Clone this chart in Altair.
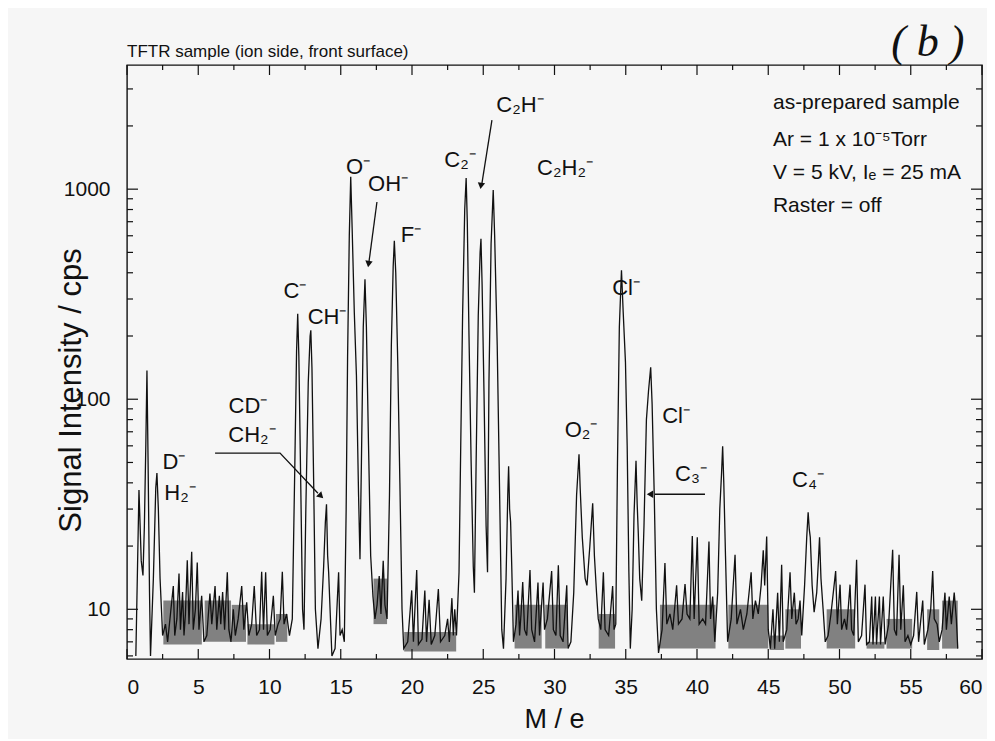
import altair as alt
import pandas as pd

# ---------------- data ----------------
trace_mz = [
    0.62, 0.84, 1.00, 1.12, 1.22, 1.32, 1.40, 1.48, 1.58, 1.65, 1.85, 2.02, 2.10, 2.20, 2.32, 2.50,
    2.70, 2.85, 3.05, 3.25, 3.35, 3.50, 3.65, 3.75, 3.90, 4.00, 4.10, 4.23, 4.35, 4.54, 4.65, 4.80,
    4.93, 5.05, 5.24, 5.40, 5.60, 5.82, 5.95, 6.18, 6.30, 6.48, 6.58, 6.71, 6.85, 7.04, 7.15, 7.30,
    7.46, 7.60, 7.80, 8.05, 8.20, 8.40, 8.55, 8.75, 8.93, 9.10, 9.30, 9.45, 9.58, 9.73, 9.85, 10.05,
    10.27, 10.40, 10.60, 10.75, 10.90, 11.02, 11.20, 11.40,
    11.60, 11.78, 11.90, 11.98, 12.06, 12.18, 12.32, 12.42, 12.55, 12.72, 12.85, 12.90, 12.98, 13.10,
    13.22, 13.40, 13.62, 13.80, 13.92, 14.00, 14.08, 14.15, 14.25, 14.38, 14.60, 14.85, 14.95, 15.10,
    15.25, 15.38, 15.48, 15.60, 15.70, 15.80, 15.95, 16.10, 16.25, 16.35, 16.45, 16.58, 16.70, 16.80,
    16.95, 17.10, 17.26, 17.40, 17.55, 17.70, 17.82, 17.98, 18.10, 18.25, 18.42, 18.55, 18.68, 18.76,
    18.86, 19.00, 19.15, 19.30, 19.42, 19.70, 19.98, 20.10, 20.33, 20.45, 20.70, 20.90, 21.02, 21.20,
    21.35, 21.60, 21.85, 22.00, 22.30, 22.50, 22.62, 22.80, 22.90, 23.00, 23.12,
    23.30, 23.42, 23.55, 23.70, 23.80, 23.88, 24.00, 24.15, 24.30, 24.38, 24.50, 24.65, 24.78, 24.84,
    24.92, 25.05, 25.20, 25.30, 25.40, 25.55, 25.70, 25.80, 25.98, 26.15, 26.30, 26.42, 26.60, 26.72,
    26.78, 26.85, 26.92, 27.00, 27.12, 27.30, 27.44, 27.55, 27.65, 27.77, 27.90, 28.05, 28.28, 28.40,
    28.60, 28.84, 28.95, 29.20, 29.30, 29.50, 29.80, 29.92, 30.10, 30.27, 30.40, 30.60, 30.86, 30.95,
    31.15, 31.35, 31.55, 31.72, 31.80, 31.95, 32.15, 32.28, 32.48, 32.68, 32.80, 32.95, 33.07, 33.25,
    33.43, 33.55, 33.80, 34.08, 34.18, 34.30, 34.42, 34.55, 34.70, 34.82, 34.98, 35.10, 35.22, 35.32,
    35.45, 35.58, 35.72, 35.80, 35.88, 35.98, 36.12, 36.28, 36.45, 36.60, 36.75, 36.85, 37.00, 37.15,
    37.30, 37.55, 37.75, 37.88, 38.10, 38.30, 38.57, 38.70, 38.95, 39.16, 39.30, 39.50, 39.67, 39.80,
    40.02, 40.15, 40.40, 40.60, 40.84, 40.95, 41.10, 41.25, 41.45, 41.60, 41.72, 41.80, 41.88, 42.00,
    42.15, 42.40, 42.67, 42.80, 43.05, 43.25, 43.50, 43.80, 43.92, 44.10, 44.30, 44.50, 44.65, 44.75,
    44.89, 45.00, 45.15, 45.33, 45.45, 45.66, 45.78, 45.94, 46.05, 46.30, 46.53, 46.65, 46.83, 46.95,
    47.10, 47.23, 47.35, 47.55, 47.70, 47.80, 47.88, 47.95, 48.08, 48.22, 48.40, 48.52, 48.60, 48.70,
    48.85, 49.00, 49.20, 49.40, 49.73, 49.85, 50.04, 50.15, 50.35, 50.50, 50.74, 50.85, 51.00, 51.20,
    51.32, 51.55, 51.79, 51.90, 52.10, 52.26, 52.35, 52.52, 52.60, 52.80, 52.88, 53.07, 53.20, 53.45,
    53.73, 53.85, 54.00, 54.18, 54.30, 54.48, 54.60, 54.80, 55.00, 55.20, 55.42, 55.55, 55.84, 55.95,
    56.20, 56.40, 56.54, 56.65, 56.85, 57.00, 57.20, 57.40, 57.50, 57.70, 57.85, 58.05, 58.20, 58.30,
]
trace_cps = [
    6.0, 37, 17, 14.5, 25, 60, 137, 50, 12, 6.0, 14, 38, 44.5, 30, 14, 7.5,
    8.5, 7.0, 9.5, 12.9, 7.5, 9.0, 14.8, 8.0, 12.1, 7.5, 9.5, 17.1, 8.5, 18.8, 8.0, 10.0,
    16.7, 8.0, 11.6, 7.0, 7.5, 11.9, 8.5, 12.9, 8.0, 11.6, 8.5, 12.1, 8.0, 15.0, 8.0, 7.0,
    10.0, 7.5, 9.0, 12.9, 8.0, 10.8, 7.5, 8.5, 12.9, 7.5, 8.0, 15.1, 8.0, 15.0, 7.5, 8.0,
    11.6, 7.5, 8.5, 9.0, 15.1, 8.5, 9.5, 7.5,
    9, 50, 170, 255, 160, 45, 10, 8, 30, 120, 200, 213, 140, 40,
    10, 6.5, 9, 16, 26, 31.6, 18, 15, 10, 6.0, 6.5, 15.0, 7.5, 8.0,
    7.0, 30, 160, 600, 1145, 650, 260, 130, 35, 17.3, 50, 220, 372, 220,
    60, 18, 11.5, 9.0, 10.5, 14.4, 9.5, 17.0, 10.5, 9.0, 35, 180, 430, 568,
    400, 150, 40, 10, 6.5, 7.0, 12.3, 7.0, 15.4, 6.8, 7.2, 12.3, 7.0, 11.1,
    6.8, 7.5, 12.5, 7.0, 7.5, 9.0, 7.0, 11.3, 7.5, 10.0, 7.5,
    15, 60, 250, 800, 1130, 700, 200, 50, 16, 12, 50, 250, 500, 580,
    350, 110, 25, 15, 120, 550, 990, 600, 180, 35, 8, 6.5, 14, 35,
    48, 30, 26, 16, 7, 8.5, 12.3, 7.5, 9.5, 13.5, 8.0, 7.5, 15.4, 8.0,
    7.0, 13.4, 7.5, 13.4, 8.0, 9.0, 15.2, 8.0, 7.5, 16.2, 7.5, 7.0, 13.0, 6.5,
    7.0, 12, 35, 54.7, 38, 22, 14, 13, 20, 32, 18, 12, 9, 8,
    15, 8, 7.5, 12.9, 8, 8.5, 50, 220, 411, 260, 150, 60, 15, 6.5,
    10, 28, 51, 32, 23, 14, 11, 25, 80, 110, 142, 95, 35, 10,
    6.2, 8, 16.6, 8.5, 9.5, 8.0, 13.0, 8.5, 9.0, 13.2, 9.5, 9.0, 22.3, 9.0,
    22.0, 8.5, 9.0, 8.5, 21.0, 9.0, 11.5, 7.0, 12, 30, 44, 59.7, 40, 18,
    7, 9.0, 18.2, 8.5, 10.0, 8.0, 9.5, 15.0, 9.0, 11.0, 9.5, 13, 19.1, 13,
    22.2, 8.0, 6.5, 10.0, 6.5, 12.0, 7.0, 16.3, 7.0, 8.0, 15.0, 9.0, 12.0, 8.5,
    9.0, 11.0, 7.5, 13, 22, 29, 24, 22, 13, 9.7, 12, 17, 22, 14,
    10, 7.0, 7.5, 9.5, 15.2, 8.5, 13.1, 8.0, 9.0, 8.0, 13.1, 8.0, 7.5, 17.2,
    7.0, 7.5, 13.1, 6.8, 7.0, 11.5, 6.8, 11.5, 6.8, 11.5, 6.8, 11.5, 6.8, 8.5,
    19.2, 8.0, 7.5, 18.2, 8.0, 13.0, 7.0, 7.5, 6.8, 7.5, 12.1, 7.0, 11.0, 6.8,
    8.0, 10.0, 15.2, 9.0, 8.5, 7.0, 8.0, 12.0, 8.0, 11.5, 8.5, 12.0, 9.0, 6.5,
]

# dense (stippled) noise bands
band_start = [2.55, 5.45, 7.35, 8.45, 10.45, 17.3, 19.45, 27.2, 29.35, 33.1, 37.4, 42.2, 45.1, 46.2, 49.1, 51.9, 53.3, 56.15, 57.2]
band_end = [5.25, 7.3, 8.35, 10.35, 11.25, 18.25, 23.1, 29.1, 30.9, 34.25, 41.3, 45.0, 46.1, 47.3, 51.1, 53.15, 55.1, 57.0, 58.3]
band_lo = [6.8, 7.0, 7.0, 6.8, 7.0, 8.5, 6.3, 6.5, 6.5, 6.5, 6.5, 6.5, 6.4, 6.5, 6.5, 6.5, 6.5, 6.4, 6.5]
band_hi = [11, 11, 10.5, 8.5, 9.5, 14, 7.8, 10.5, 10.5, 9.5, 10.5, 10.5, 7.5, 10, 10, 7, 9, 10, 11]

# peak labels
label_text = ["D⁻", "H₂⁻", "CD⁻", "CH₂⁻", "C⁻", "CH⁻", "O⁻", "OH⁻", "F⁻", "C₂⁻", "C₂H⁻",
              "C₂H₂⁻", "Cl⁻", "Cl⁻", "O₂⁻", "C₃⁻", "C₄⁻"]
label_mz = [3.30, 3.72, 8.49, 8.77, 11.79, 14.04, 16.21, 18.32, 19.93, 23.37, 27.58,
            30.74, 35.02, 38.53, 31.86, 39.58, 47.79]
label_cps = [50.3, 35.7, 92.6, 67.4, 327, 246, 1274, 1058, 604, 1376, 2518,
             1262, 338, 83, 71.3, 44, 41.2]

# arrows
arrow_id = [0, 0, 0, 1, 1, 2, 2, 3, 3]
arrow_mz = [6.18, 10.74, 13.40, 17.54, 16.98, 25.61, 24.91, 40.56, 37.05]
arrow_cps = [55.4, 55.4, 35.7, 869, 450, 2133, 1069, 35.3, 35.3]
head_mz = [13.61, 16.95, 24.84, 36.70]
head_cps = [34.6, 440, 1036, 35.3]
head_shape = ["triangle-down", "triangle-down", "triangle-down", "triangle-left"]
head_angle = [315, 8, 9, 0]

# info block
info_text = ["as-prepared sample", "Ar = 1 x 10⁻⁵Torr", "V = 5 kV, Iₑ = 25 mA", "Raster = off"]
info_mz = [45.33, 45.33, 45.33, 45.33]
info_cps = [2572, 1714, 1194, 832]

title_text = ["TFTR sample (ion side, front surface)"]
title_mz = [0.0]
title_cps = [4500]
panel_text = ["( b )"]
panel_mz = [56.2]
panel_cps = [4966]

x_major = list(range(0, 61, 5))
x_minor = [2.5, 7.5, 12.5, 17.5, 22.5, 27.5, 32.5, 37.5, 42.5, 47.5, 52.5, 57.5]
y_major = [10, 100, 1000]
y_minor = [6, 7, 8, 9, 20, 30, 40, 50, 60, 70, 80, 90,
           200, 300, 400, 500, 600, 700, 800, 900, 2000, 3000]

# ---------------- chart ----------------
W, H = 855, 594
FONT = "Liberation Sans"
INK = "#111111"

xs = alt.Scale(domain=[0, 60], nice=False, zero=False)
ys = alt.Scale(type="log", domain=[5.8, 3900], nice=False)

AX = alt.Axis(
    values=x_major, ticks=False, domain=False, grid=False, title="M / e",
    labelFont=FONT, labelFontSize=21, labelColor=INK, labelPadding=17,
    titleFont=FONT, titleFontSize=27, titleFontWeight="normal", titleColor=INK,
    titleX=427, titleY=60, titleBaseline="middle", titleAlign="center")
AY = alt.Axis(
    values=y_major, ticks=False, domain=False, grid=False, title="Signal Intensity / cps",
    format="d", labelFont=FONT, labelFontSize=21, labelColor=INK, labelPadding=17,
    titleFont=FONT, titleFontSize=31, titleFontWeight="normal", titleColor=INK,
    titleX=-56, titleY=325, titleAngle=270, titleBaseline="middle", titleAlign="center")


def X(field):
    return alt.X(field, scale=xs, axis=AX, title="M / e")


def Y(field):
    return alt.Y(field, scale=ys, axis=AY, title="Signal Intensity / cps")


trace = pd.DataFrame({"i": range(len(trace_mz)), "mz": trace_mz, "cps": trace_cps})
bands = pd.DataFrame({"s": band_start, "e": band_end, "lo": band_lo, "hi": band_hi})
labels = pd.DataFrame({"t": label_text, "mz": label_mz, "cps": label_cps})
arrows = pd.DataFrame({"id": arrow_id, "mz": arrow_mz, "cps": arrow_cps, "o": range(len(arrow_id))})
heads = pd.DataFrame({"mz": head_mz, "cps": head_cps, "shape": head_shape, "ang": head_angle})
info = pd.DataFrame({"t": info_text, "mz": info_mz, "cps": info_cps})
ttl = pd.DataFrame({"t": title_text, "mz": title_mz, "cps": title_cps})
pnl = pd.DataFrame({"t": panel_text, "mz": panel_mz, "cps": panel_cps})
xmaj = pd.DataFrame({"v": x_major})
xmin = pd.DataFrame({"v": x_minor})
ymaj = pd.DataFrame({"v": y_major})
ymin = pd.DataFrame({"v": y_minor})

band_layer = alt.Chart(bands).mark_rect(fill="#333333", opacity=0.6, clip=True).encode(
    x=X("s:Q"), x2="e:Q", y=Y("lo:Q"), y2="hi:Q")

line_layer = alt.Chart(trace).mark_line(color=INK, strokeWidth=1.3, clip=True).encode(
    x=X("mz:Q"), y=Y("cps:Q"), order="i:Q")


def xticks(df, y0, y1):
    return alt.Chart(df).mark_rule(color=INK, strokeWidth=1.2).encode(
        x=X("v:Q"), y=alt.value(y0), y2=alt.value(y1))


def yticks(df, x0, x1):
    return alt.Chart(df).mark_rule(color=INK, strokeWidth=1.2).encode(
        y=Y("v:Q"), x=alt.value(x0), x2=alt.value(x1))


tick_layers = [
    xticks(xmaj, H, H - 10), xticks(xmin, H, H - 5),
    xticks(xmaj, 0, 10), xticks(xmin, 0, 5),
    yticks(ymaj, 0, 11), yticks(ymin, 0, 6),
    yticks(ymaj, W, W - 11), yticks(ymin, W, W - 6),
]

label_layer = alt.Chart(labels).mark_text(font=FONT, fontSize=22, color=INK,
                                          align="center", baseline="middle").encode(
    x=X("mz:Q"), y=Y("cps:Q"), text="t:N")

arrow_layer = alt.Chart(arrows).mark_line(color=INK, strokeWidth=1.3).encode(
    x=X("mz:Q"), y=Y("cps:Q"), detail="id:N", order="o:Q")

head_layer = alt.Chart(heads).mark_point(filled=True, color=INK, opacity=1, size=55).encode(
    x=X("mz:Q"), y=Y("cps:Q"),
    shape=alt.Shape("shape:N", scale=None, legend=None),
    angle=alt.Angle("ang:Q", scale=None))

info_layer = alt.Chart(info).mark_text(font=FONT, fontSize=21, color=INK,
                                       align="left", baseline="middle").encode(
    x=X("mz:Q"), y=Y("cps:Q"), text="t:N")

title_layer = alt.Chart(ttl).mark_text(font=FONT, fontSize=17, color=INK,
                                       align="left", baseline="middle").encode(
    x=X("mz:Q"), y=Y("cps:Q"), text="t:N")

panel_layer = alt.Chart(pnl).mark_text(font="Liberation Serif", fontSize=44, fontStyle="italic",
                                       color=INK, align="center", baseline="middle").encode(
    x=X("mz:Q"), y=Y("cps:Q"), text="t:N")

chart = alt.layer(
    band_layer, line_layer, *tick_layers, label_layer, arrow_layer, head_layer,
    info_layer, title_layer, panel_layer
).properties(
    width=W, height=H,
    autosize=alt.AutoSizeParams(type="none"),
    padding={"left": 119, "top": 57, "right": 5, "bottom": 80},
    background="#f6f6f6",
).configure_view(stroke=INK, strokeWidth=1.4)

chart.save("out.html", embed_options={"renderer": "svg", "actions": False})
